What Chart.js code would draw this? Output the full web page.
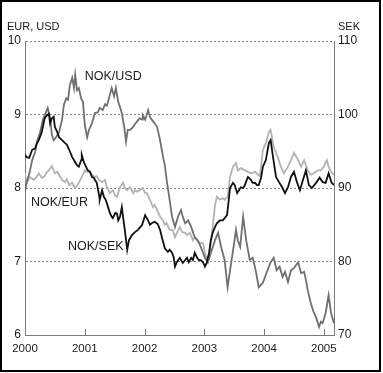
<!DOCTYPE html>
<html>
<head>
<meta charset="utf-8">
<script src="https://cdn.jsdelivr.net/npm/chart.js@4.4.1/dist/chart.umd.min.js"></script>
<style>
  html, body { margin: 0; padding: 0; background: #fff; }
</style>
</head>
<body>
<canvas id="fxChart" width="383" height="373"></canvas>
<script>
// NOK/USD (left axis)
const usdYears = [2000.00,2000.03,2000.08,2000.12,2000.17,2000.20,2000.25,2000.30,2000.35,2000.38,2000.42,2000.45,2000.48,2000.52,2000.57,2000.62,2000.65,2000.69,2000.72,2000.75,2000.79,2000.82,2000.84,2000.87,2000.90,2000.94,2000.97,
  2001.00,2001.04,2001.07,2001.12,2001.17,2001.22,2001.25,2001.30,2001.34,2001.37,2001.42,2001.45,2001.49,2001.52,2001.56,2001.59,2001.62,2001.66,2001.69,2001.72,2001.76,2001.81,2001.84,2001.87,2001.92,2001.96,2001.97,
  2002.01,2002.06,2002.09,2002.12,2002.17,2002.21,2002.26,2002.31,2002.34,2002.37,2002.42,2002.46,2002.51,2002.56,2002.61,2002.64,2002.68,2002.73,2002.78,2002.84,2002.89,2002.94,
  2003.01,2003.06,2003.11,2003.18,2003.23,2003.28,2003.34,2003.39,2003.44,2003.49,2003.53,2003.56,2003.60,2003.65,2003.70,2003.76,2003.81,2003.86,2003.91,2003.98,
  2004.03,2004.08,2004.11,2004.16,2004.21,2004.26,2004.31,2004.35,2004.40,2004.45,2004.50,2004.57,2004.62,2004.67,2004.70,2004.73,2004.78,2004.83,2004.87,2004.92,2004.95,2004.98,
  2005.03,2005.08,2005.12,2005.17];
const usdValues = [7.95,8.08,8.22,8.38,8.49,8.63,8.75,8.93,9.03,9.09,8.95,8.72,8.65,8.69,8.76,8.93,9.13,9.22,9.20,9.40,9.50,9.36,9.54,9.33,9.36,9.22,9.17,
  8.86,8.69,8.79,8.88,9.02,9.03,9.09,9.06,9.14,9.12,9.27,9.36,9.25,9.36,9.17,9.10,9.02,8.83,8.63,8.79,8.79,8.83,8.87,8.90,8.95,8.93,8.99,
  8.93,9.06,8.97,8.93,8.88,8.83,8.65,8.42,8.31,8.11,7.84,7.61,7.47,7.61,7.70,7.61,7.52,7.56,7.47,7.33,7.29,7.20,
  7.05,6.99,7.12,7.29,7.39,7.20,7.02,6.65,6.93,7.20,7.43,7.29,7.20,7.61,7.29,7.02,7.05,6.88,6.65,6.71,
  6.82,6.93,6.99,7.05,6.88,6.93,6.79,6.86,6.72,6.88,6.91,6.99,6.84,6.86,6.75,6.61,6.44,6.31,6.24,6.11,6.18,6.16,
  6.30,6.54,6.30,6.16];

// NOK/EUR (left axis)
const eurYears = [2000.00,2000.03,2000.08,2000.15,2000.20,2000.23,2000.28,2000.32,2000.37,2000.40,2000.45,2000.50,2000.54,2000.57,2000.62,2000.67,2000.70,2000.74,2000.79,2000.84,2000.87,2000.90,2000.95,2000.99,
  2001.00,2001.04,2001.07,2001.12,2001.17,2001.20,2001.24,2001.29,2001.34,2001.37,2001.42,2001.47,2001.51,2001.54,2001.59,2001.64,2001.67,2001.71,2001.76,2001.81,2001.84,2001.87,2001.92,2001.97,
  2002.01,2002.04,2002.09,2002.14,2002.17,2002.21,2002.26,2002.31,2002.34,2002.37,2002.42,2002.47,2002.51,2002.54,2002.59,2002.63,2002.68,2002.71,2002.76,2002.81,2002.84,2002.89,2002.94,2002.98,
  2003.01,2003.06,2003.09,2003.11,2003.14,2003.18,2003.21,2003.26,2003.31,2003.34,2003.39,2003.43,2003.48,2003.53,2003.56,2003.61,2003.68,2003.73,2003.78,2003.85,2003.90,2003.93,2003.98,
  2004.03,2004.08,2004.11,2004.16,2004.23,2004.28,2004.33,2004.40,2004.45,2004.50,2004.57,2004.62,2004.67,2004.73,2004.78,2004.83,2004.90,2004.95,
  2005.00,2005.05,2005.08,2005.12,2005.17];
const eurValues = [8.20,8.07,8.15,8.11,8.16,8.20,8.14,8.15,8.22,8.24,8.30,8.20,8.22,8.18,8.11,8.08,8.12,8.04,8.07,8.00,8.03,8.07,8.15,8.22,
  8.24,8.22,8.22,8.18,8.15,8.16,8.11,8.08,8.11,8.01,7.93,7.97,7.90,7.88,8.01,8.07,8.00,7.97,8.01,7.93,7.97,7.95,7.97,8.00,
  7.93,7.93,7.84,7.74,7.77,7.70,7.61,7.56,7.50,7.52,7.43,7.43,7.33,7.39,7.47,7.40,7.39,7.36,7.39,7.29,7.33,7.27,7.25,7.25,
  7.12,6.99,7.09,7.29,7.47,7.77,7.88,7.84,7.86,7.84,7.88,8.15,8.29,8.34,8.24,8.27,8.24,8.22,8.20,8.22,8.18,8.16,8.52,
  8.61,8.76,8.79,8.56,8.42,8.29,8.20,8.29,8.38,8.48,8.38,8.29,8.38,8.24,8.18,8.20,8.24,8.24,
  8.29,8.38,8.29,8.22,8.18];

// NOK/SEK (right axis)
const sekYears = [2000.00,2000.03,2000.07,2000.12,2000.17,2000.20,2000.23,2000.28,2000.33,2000.37,2000.40,2000.42,2000.45,2000.48,2000.50,2000.54,2000.57,2000.62,2000.67,2000.70,2000.74,2000.79,2000.84,2000.87,2000.90,2000.94,2000.95,2000.99,
  2001.02,2001.05,2001.09,2001.12,2001.15,2001.20,2001.24,2001.25,2001.29,2001.32,2001.35,2001.39,2001.42,2001.45,2001.47,2001.51,2001.54,2001.56,2001.59,2001.62,2001.64,2001.67,2001.71,2001.74,2001.79,2001.84,2001.89,2001.92,2001.96,
  2002.01,2002.06,2002.09,2002.12,2002.17,2002.22,2002.26,2002.29,2002.34,2002.39,2002.42,2002.46,2002.49,2002.51,2002.54,2002.59,2002.64,2002.68,2002.71,2002.74,2002.78,2002.81,2002.84,2002.88,2002.91,2002.94,2002.98,
  2003.01,2003.04,2003.08,2003.11,2003.14,2003.18,2003.21,2003.26,2003.31,2003.34,2003.38,2003.41,2003.43,2003.48,2003.51,2003.55,2003.58,2003.61,2003.65,2003.68,2003.71,2003.73,2003.78,2003.81,2003.85,2003.88,2003.91,2003.95,2003.98,
  2004.03,2004.08,2004.11,2004.15,2004.20,2004.25,2004.28,2004.31,2004.35,2004.40,2004.45,2004.50,2004.55,2004.60,2004.65,2004.70,2004.75,2004.80,2004.87,2004.93,2004.98,
  2005.03,2005.08,2005.13,2005.17];
const sekValues = [94.5,94.2,94.1,95.2,95.4,96.1,96.5,97.6,99.5,99.9,100.1,98.8,99.5,99.7,98.3,97.6,96.9,96.5,96.1,95.9,95.2,94.2,93.5,93.1,92.9,93.8,94.5,93.4,
  92.9,92.4,92.2,91.5,91.4,90.7,89.0,88.4,89.7,88.8,88.4,87.4,86.6,86.1,85.9,86.6,86.5,85.6,86.1,87.4,86.1,84.3,81.6,82.9,83.6,84.0,84.3,84.6,85.0,
  86.3,85.6,85.0,85.2,85.4,85.1,84.3,83.3,81.8,81.3,81.6,81.2,80.5,79.3,79.9,80.5,79.8,80.2,80.5,79.9,80.5,80.2,81.2,80.5,80.2,80.2,79.9,
  79.3,79.8,81.2,82.9,83.9,84.7,85.2,85.6,85.6,85.9,86.3,88.4,90.0,90.7,90.4,89.3,89.7,90.1,90.0,90.4,91.1,91.5,91.1,90.7,90.7,90.4,90.4,91.4,92.9,
  93.8,96.1,96.5,94.2,91.5,90.8,90.4,90.0,89.3,90.1,91.5,92.2,90.8,89.7,91.1,92.4,90.4,90.0,90.7,91.4,90.8,
  90.7,92.0,90.7,90.4];

const xTicksFrom = 2000, xTicksTo = 2005;
const leftTitle = 'EUR, USD';
const rightTitle = 'SEK';

// series name labels, placed in data units (left axis)
const seriesNames = ['NOK/USD', 'NOK/EUR', 'NOK/SEK'];
const nameYears = [2001.00, 2000.10, 2000.72];
const nameValues = [9.51, 7.80, 7.21];

const FONT = '"Liberation Sans", Arial, Helvetica, sans-serif';
const TEXT = '#1a1a1a';
const AXIS = '#7a7a7a';

function zip(xs, ys) {
  return xs.map((x, i) => ({ x: x, y: ys[i] }));
}

const annotate = {
  id: 'annotate',
  afterDatasetsDraw(chart) {
    const { ctx, scales } = chart;
    const x = scales.x, y = scales.y;
    ctx.save();
    // small upward tick marks on the time axis
    ctx.strokeStyle = AXIS;
    ctx.lineWidth = 1;
    x.ticks.forEach(t => {
      const px = Math.round(x.getPixelForValue(t.value)) + 0.5;
      ctx.beginPath();
      ctx.moveTo(px, x.top);
      ctx.lineTo(px, x.top - 6);
      ctx.stroke();
    });
    // series names
    ctx.fillStyle = TEXT;
    ctx.font = '12.5px ' + FONT;
    ctx.textAlign = 'left';
    ctx.textBaseline = 'middle';
    seriesNames.forEach((n, i) => {
      ctx.fillText(n, x.getPixelForValue(nameYears[i]), y.getPixelForValue(nameValues[i]));
    });
    ctx.restore();
  },
  afterDraw(chart) {
    const { ctx } = chart;
    ctx.save();
    ctx.fillStyle = TEXT;
    ctx.font = '11px ' + FONT;
    ctx.textBaseline = 'middle';
    ctx.textAlign = 'left';
    ctx.fillText(leftTitle, 7, 27);
    ctx.fillText(rightTitle, 338, 27);
    // frame round the whole picture
    ctx.strokeStyle = '#000';
    ctx.lineWidth = 2;
    ctx.strokeRect(1, 1, 379, 370);
    ctx.restore();
  }
};

const ctx = document.getElementById('fxChart').getContext('2d');
new Chart(ctx, {
  type: 'line',
  data: {
    datasets: [
      { label: 'NOK/SEK', data: zip(sekYears, sekValues), yAxisID: 'sek', borderColor: '#111', borderWidth: 1.8 },
      { label: 'NOK/USD', data: zip(usdYears, usdValues), yAxisID: 'y', borderColor: '#707070', borderWidth: 1.8 },
      { label: 'NOK/EUR', data: zip(eurYears, eurValues), yAxisID: 'y', borderColor: '#b3b3b3', borderWidth: 1.8 }
    ]
  },
  options: {
    responsive: false,
    animation: false,
    devicePixelRatio: 1,
    layout: { padding: { top: 41, left: 0, right: 0, bottom: 0 } },
    elements: { point: { radius: 0 }, line: { tension: 0 } },
    plugins: { legend: { display: false }, tooltip: { enabled: false } },
    scales: {
      x: {
        type: 'linear',
        min: 2000,
        max: 2005.17,
        afterFit(s) { s.height = 38; },
        grid: { display: false, drawTicks: false },
        border: { display: true, color: AXIS, width: 1 },
        ticks: {
          stepSize: 1,
          includeBounds: false,
          padding: 7,
          maxRotation: 0,
          color: TEXT,
          font: { family: FONT, size: 11.5 },
          callback: v => (v >= xTicksFrom && v <= xTicksTo && Number.isInteger(v)) ? String(v) : ''
        }
      },
      y: {
        position: 'left',
        min: 6,
        max: 10,
        afterFit(s) { s.width = 25; },
        grid: { color: '#8a8a8a', lineWidth: 1, drawTicks: false },
        border: { display: true, color: AXIS, width: 1, dash: [2, 2] },
        ticks: { stepSize: 1, padding: 4, color: TEXT, font: { family: FONT, size: 12 } }
      },
      sek: {
        position: 'right',
        min: 70,
        max: 110,
        afterFit(s) { s.width = 49; },
        grid: { drawOnChartArea: false, drawTicks: false },
        border: { display: true, color: AXIS, width: 1 },
        ticks: { stepSize: 10, padding: 4, color: TEXT, font: { family: FONT, size: 12 } }
      }
    }
  },
  plugins: [annotate]
});
</script>
</body>
</html>
